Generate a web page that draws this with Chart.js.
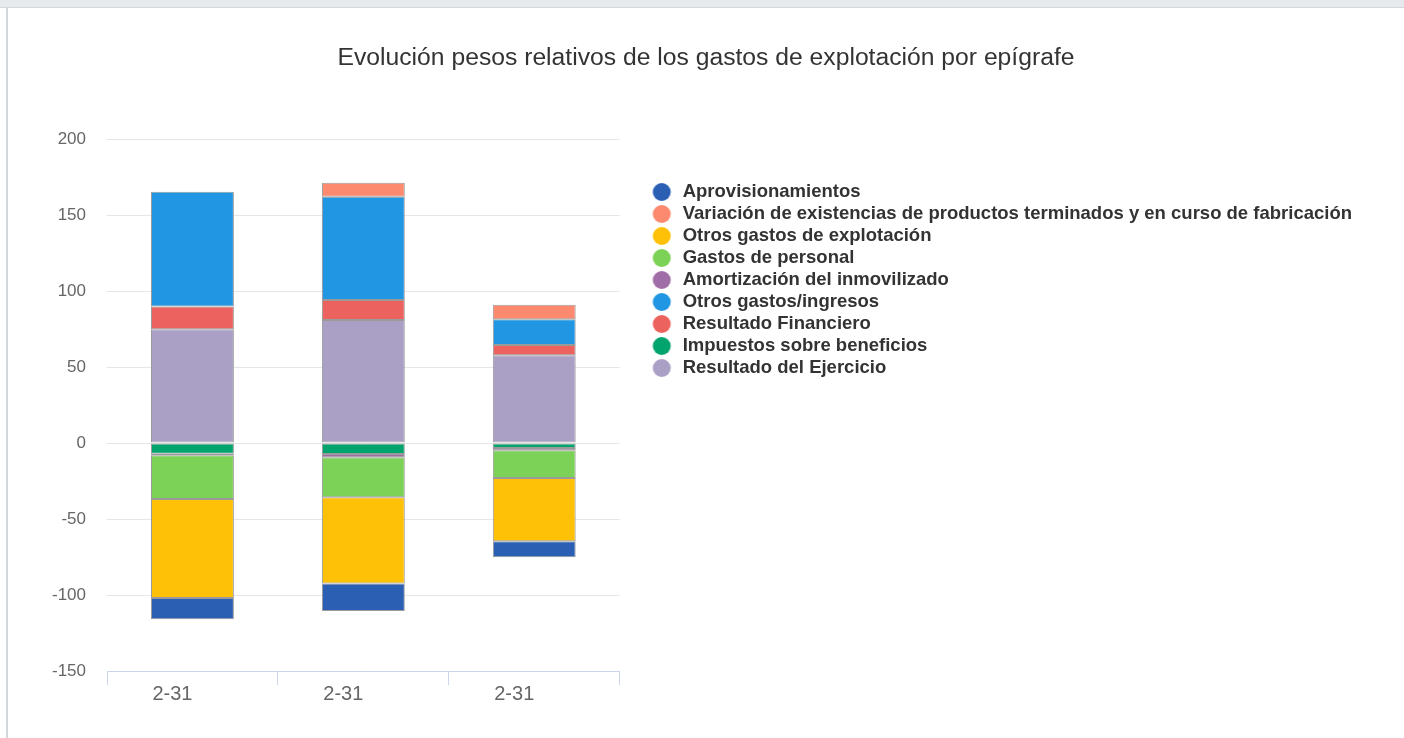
<!DOCTYPE html>
<html>
<head>
<meta charset="utf-8">
<script src="https://cdn.jsdelivr.net/npm/chart.js@4"></script>
<style>
    body { margin: 0; background: #fff; width: 1404px; height: 738px; overflow: hidden; }
    #band { position: absolute; left: 0; top: 0; width: 1404px; height: 7px; background: #e7eaed; border-bottom: 1px solid #d3d7db; }
    #side { position: absolute; left: 6px; top: 8px; width: 2px; height: 730px; background: #d3d7db; }
    #wrap { position: absolute; left: 8px; top: 8px; width: 1396px; height: 730px; }
</style>
</head>
<body>
<div id="band"></div>
<div id="side"></div>
<div id="wrap"><canvas id="chart"></canvas></div>
<script>
let categories = ['2-31', '2-31', '2-31']

let seriesNames = [
    'Aprovisionamientos',
    'Variación de existencias de productos terminados y en curso de fabricación',
    'Otros gastos de explotación',
    'Gastos de personal',
    'Amortización del inmovilizado',
    'Otros gastos/ingresos',
    'Resultado Financiero',
    'Impuestos sobre beneficios',
    'Resultado del Ejercicio'
]

let seriesColors = [
    '#2b5fb4', '#fd8a6f', '#ffc107', '#7cd256', '#a06ea6',
    '#2196e3', '#ec625e', '#02a46d', '#aa9fc4'
]

let aprovisionamientos = [-14.0, -18.0, -10.5]
let variacionExistencias = [0, 9.2, 9.6]
let otrosGastosExplotacion = [-65.1, -56.8, -41.7]
let gastosPersonal = [-28.7, -26.3, -18.2]
let amortizacion = [-1.1, -2.2, -1.5]
let otrosGastosIngresos = [75.4, 68.0, 16.9]
let resultadoFinanciero = [15.1, 13.2, 6.8]
let impuestos = [-7.0, -7.2, -3.3]
let resultadoEjercicio = [74.8, 80.9, 57.7]

let seriesValues = [
    aprovisionamientos, variacionExistencias, otrosGastosExplotacion, gastosPersonal,
    amortizacion, otrosGastosIngresos, resultadoFinanciero, impuestos, resultadoEjercicio
]

let yTicks = [-150, -100, -50, 0, 50, 100, 150, 200]

function makeDot(color) {
    let c = document.createElement('canvas')
    c.width = 80
    c.height = 20
    let g = c.getContext('2d')
    g.fillStyle = color
    g.beginPath()
    g.arc(53.4, 10, 9, 0, Math.PI * 2)
    g.fill()
    return c
}

// first series sits furthest from zero, so stack them in reverse
let datasets = seriesNames.map((name, i) => ({
    label: name,
    data: seriesValues[i],
    backgroundColor: seriesColors[i],
    borderColor: '#9a9a9a',
    borderWidth: 1,
    borderSkipped: false
})).reverse()

let dots = datasets.map((ds) => makeDot(ds.backgroundColor))

// the side legend is capped at a quarter of the width by default, let it take what it needs
let wideLegend = {
    id: 'wideLegend',
    beforeLayout(chart) {
        let legend = chart.legend
        if (!legend || legend._wide) return
        let update = legend.update
        legend.update = function(maxWidth, maxHeight, margins) {
            return update.call(this, 800, maxHeight, margins)
        }
        legend._wide = true
    }
}

let ctx = document.getElementById('chart').getContext('2d')
let chart = new Chart(ctx, {
    type: 'bar',
    data: {
        labels: categories,
        datasets: datasets
    },
    plugins: [wideLegend],
    options: {
        responsive: true,
        maintainAspectRatio: false,
        animation: false,
        layout: {
            padding: { left: 42, right: 42, top: 0, bottom: 7 }
        },
        datasets: {
            bar: { categoryPercentage: 1, barPercentage: 0.485 }
        },
        scales: {
            x: {
                stacked: true,
                grid: {
                    drawOnChartArea: false,
                    color: '#ccd6eb',
                    tickLength: 14,
                    offset: true
                },
                border: { color: '#ccd6eb' },
                ticks: {
                    color: '#666666',
                    font: { family: 'Liberation Sans', size: 20 },
                    labelOffset: -20,
                    padding: -3
                },
                afterFit: (s) => { s.height = 60 }
            },
            y: {
                stacked: true,
                min: -150,
                max: 200,
                afterBuildTicks: (s) => { s.ticks = yTicks.map((v) => ({ value: v })) },
                grid: { color: '#e6e6e6', drawTicks: false },
                border: { display: false },
                ticks: {
                    color: '#666666',
                    font: { family: 'Liberation Sans', size: 17 },
                    padding: 21
                },
                afterFit: (s) => { s.width = 57 }
            }
        },
        plugins: {
            title: {
                display: true,
                text: 'Evolución pesos relativos de los gastos de explotación por epígrafe',
                color: '#333333',
                font: { family: 'Liberation Sans', size: 24.7, weight: 'normal' },
                padding: { top: 35.2, bottom: 66.2 }
            },
            legend: {
                position: 'right',
                align: 'start',
                fullSize: false,
                reverse: true,
                title: {
                    display: true,
                    text: '',
                    font: { family: 'Liberation Sans', size: 16 },
                    padding: { top: 21, bottom: 0 }
                },
                labels: {
                    color: '#333333',
                    font: { family: 'Liberation Sans', size: 18.5, weight: 'bold' },
                    usePointStyle: true,
                    pointStyleWidth: 50.25,
                    padding: 3.5,
                    generateLabels: (c) => Chart.defaults.plugins.legend.labels.generateLabels(c)
                        .map((item) => ({ ...item, pointStyle: dots[item.datasetIndex] }))
                }
            },
            tooltip: { enabled: false }
        }
    }
})
</script>
</body>
</html>
